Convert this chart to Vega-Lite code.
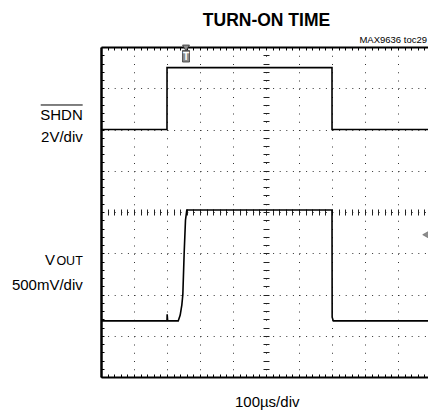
{
  "$schema": "https://vega.github.io/schema/vega-lite/v6.json",
  "width": 327,
  "height": 330,
  "autosize": "none",
  "padding": {"left": 101, "top": 47, "right": 0, "bottom": 33},
  "background": "white",
  "config": {"view": {"stroke": null}, "font": "Liberation Sans"},
  "title": {"text": "TURN-ON TIME", "font": "Liberation Sans", "fontSize": 17.5, "fontWeight": "bold", "color": "black", "anchor": "middle", "frame": "group", "offset": 5, "dx": 2},
  "data": {"values": [
    {"ch": "SHDN", "t": 0, "v": 6.0},
    {"ch": "SHDN", "t": 2.0, "v": 6.0},
    {"ch": "SHDN", "t": 2.001, "v": 7.5},
    {"ch": "SHDN", "t": 7.0, "v": 7.5},
    {"ch": "SHDN", "t": 7.001, "v": 6.0},
    {"ch": "SHDN", "t": 9.91, "v": 6.0},
    {"ch": "VOUT", "t": 0, "v": 1.36},
    {"ch": "VOUT", "t": 2.0, "v": 1.36},
    {"ch": "VOUT", "t": 2.005, "v": 1.52},
    {"ch": "VOUT", "t": 2.02, "v": 1.36},
    {"ch": "VOUT", "t": 2.34, "v": 1.36},
    {"ch": "VOUT", "t": 2.4, "v": 1.5},
    {"ch": "VOUT", "t": 2.45, "v": 1.75},
    {"ch": "VOUT", "t": 2.48, "v": 2.0},
    {"ch": "VOUT", "t": 2.52, "v": 3.0},
    {"ch": "VOUT", "t": 2.56, "v": 3.8},
    {"ch": "VOUT", "t": 2.6, "v": 4.05},
    {"ch": "VOUT", "t": 7.0, "v": 4.05},
    {"ch": "VOUT", "t": 7.005, "v": 1.45},
    {"ch": "VOUT", "t": 7.04, "v": 1.36},
    {"ch": "VOUT", "t": 9.91, "v": 1.36}
  ]},
  "layer": [
    {
      "transform": [{"filter": "datum.ch === 'SHDN'"}],
      "mark": {"type": "line", "color": "black", "strokeWidth": 1.6, "clip": true},
      "encoding": {
        "x": {"field": "t", "type": "quantitative", "scale": {"domain": [0, 9.909], "nice": false, "zero": false},
          "axis": {"orient": "bottom", "values": [0,0.2,0.4,0.6,0.8,1,1.2,1.4,1.6,1.8,2,2.2,2.4,2.6,2.8,3,3.2,3.4,3.6,3.8,4,4.2,4.4,4.6,4.8,5,5.2,5.4,5.6,5.8,6,6.2,6.4,6.6,6.8,7,7.2,7.4,7.6,7.8,8,8.2,8.4,8.6,8.8,9,9.2,9.4,9.6,9.8],
            "labels": false, "domain": true, "domainColor": "black", "domainWidth": 2,
            "ticks": true, "tickSize": -3, "tickColor": "black", "tickWidth": 1,
            "grid": true, "gridColor": "#333", "gridWidth": 1, "gridDash": [1, 7.25],
            "gridOpacity": {"condition": {"test": "abs(datum.value - round(datum.value)) < 0.01 && datum.value > 0.5", "value": 1}, "value": 0},
            "title": "100µs/div", "titleFont": "Liberation Sans", "titleFontSize": 15, "titleFontWeight": "normal", "titleColor": "black",
            "titleX": 165.7, "titleY": 29, "titleAlign": "center", "titleBaseline": "alphabetic"}},
        "y": {"field": "v", "type": "quantitative", "scale": {"domain": [0, 8], "nice": false, "zero": false},
          "axis": {"orient": "left", "values": [0,0.2,0.4,0.6,0.8,1,1.2,1.4,1.6,1.8,2,2.2,2.4,2.6,2.8,3,3.2,3.4,3.6,3.8,4,4.2,4.4,4.6,4.8,5,5.2,5.4,5.6,5.8,6,6.2,6.4,6.6,6.8,7,7.2,7.4,7.6,7.8],
            "labels": false, "domain": true, "domainColor": "black", "domainWidth": 2.5,
            "ticks": true, "tickSize": -3, "tickColor": "black", "tickWidth": 1,
            "grid": true, "gridColor": "#333", "gridWidth": 1, "gridDash": [1, 5.6],
            "gridOpacity": {"condition": {"test": "abs(datum.value - round(datum.value)) < 0.01 && datum.value > 0.5", "value": 1}, "value": 0},
            "title": null}}
      }
    },
    {
      "transform": [{"filter": "datum.ch === 'VOUT'"}],
      "mark": {"type": "line", "color": "black", "strokeWidth": 1.6, "clip": true},
      "encoding": {
        "x": {"field": "t", "type": "quantitative", "scale": {"domain": [0, 9.909], "nice": false, "zero": false},
          "axis": {"orient": "top", "values": [0,0.2,0.4,0.6,0.8,1,1.2,1.4,1.6,1.8,2,2.2,2.4,2.6,2.8,3,3.2,3.4,3.6,3.8,4,4.2,4.4,4.6,4.8,5,5.2,5.4,5.6,5.8,6,6.2,6.4,6.6,6.8,7,7.2,7.4,7.6,7.8,8,8.2,8.4,8.6,8.8,9,9.2,9.4,9.6,9.8],
            "labels": false, "domain": true, "domainColor": "black", "domainWidth": 2,
            "ticks": true, "tickSize": -3, "tickColor": "black", "tickWidth": 1, "grid": false, "title": null}},
        "y": {"field": "v", "type": "quantitative", "scale": {"domain": [0, 8], "nice": false, "zero": false},
          "axis": {"orient": "left", "offset": -168, "values": [0.2,0.4,0.6,0.8,1,1.2,1.4,1.6,1.8,2,2.2,2.4,2.6,2.8,3,3.2,3.4,3.6,3.8,4,4.2,4.4,4.6,4.8,5,5.2,5.4,5.6,5.8,6,6.2,6.4,6.6,6.8,7,7.2,7.4,7.6,7.8],
            "labels": false, "domain": false, "ticks": true, "tickSize": 6, "tickColor": "#222", "tickWidth": 1, "grid": false, "title": null}}
      }
    },
    {
      "data": {"values": [{}]},
      "mark": {"type": "point", "shape": "M-0.41,-1L0.41,-1L0,-0.32Z M-0.41,-0.36L0.41,-0.36L0.41,1L-0.41,1Z", "size": 289, "filled": true, "fill": "#8c8c8c", "stroke": "#3a3a3a", "strokeWidth": 0.8, "opacity": 1},
      "encoding": {
        "x": {"datum": 2.576, "type": "quantitative", "scale": {"domain": [0, 9.909], "nice": false, "zero": false},
          "axis": {"orient": "bottom", "offset": -168, "values": [0.2,0.4,0.6,0.8,1,1.2,1.4,1.6,1.8,2,2.2,2.4,2.6,2.8,3,3.2,3.4,3.6,3.8,4,4.2,4.4,4.6,4.8,5,5.2,5.4,5.6,5.8,6,6.2,6.4,6.6,6.8,7,7.2,7.4,7.6,7.8,8,8.2,8.4,8.6,8.8,9,9.2,9.4,9.6,9.8],
            "labels": false, "domain": false, "ticks": true, "tickSize": 6, "tickColor": "#222", "tickWidth": 1, "grid": false, "title": null}},
        "y": {"datum": 7.842, "type": "quantitative", "scale": {"domain": [0, 8], "nice": false, "zero": false}, "axis": null}
      }
    },
    {
      "data": {"values": [{}]},
      "mark": {"type": "text", "text": "T", "align": "center", "baseline": "alphabetic", "font": "Liberation Sans", "fontSize": 10, "fontWeight": "bold", "color": "white"},
      "encoding": {
        "x": {"datum": 2.576, "type": "quantitative", "scale": {"domain": [0, 9.909], "nice": false, "zero": false}, "axis": null},
        "y": {"datum": 7.673, "type": "quantitative", "scale": {"domain": [0, 8], "nice": false, "zero": false}, "axis": null}
      }
    },
    {
      "data": {"values": [{}]},
      "mark": {"type": "point", "shape": "triangle-left", "size": 60, "filled": true, "fill": "#8c8c8c", "stroke": "#555", "strokeWidth": 0.5, "opacity": 1},
      "encoding": {
        "x": {"datum": 9.85, "type": "quantitative", "scale": {"domain": [0, 9.909], "nice": false, "zero": false}, "axis": null},
        "y": {"datum": 3.45, "type": "quantitative", "scale": {"domain": [0, 8], "nice": false, "zero": false}, "axis": null}
      }
    },
    {
      "data": {"values": [{}]},
      "mark": {"type": "text", "text": "SHDN", "align": "right", "baseline": "alphabetic", "font": "Liberation Sans", "fontSize": 15, "color": "black"},
      "encoding": {
        "x": {"datum": -0.552, "type": "quantitative", "scale": {"domain": [0, 9.909], "nice": false, "zero": false}, "axis": null},
        "y": {"datum": 6.23, "type": "quantitative", "scale": {"domain": [0, 8], "nice": false, "zero": false}, "axis": null}
      }
    },
    {
      "data": {"values": [{}]},
      "mark": {"type": "rule", "color": "black", "strokeWidth": 1},
      "encoding": {
        "x": {"datum": -1.827, "type": "quantitative", "scale": {"domain": [0, 9.909], "nice": false, "zero": false}, "axis": null},
        "x2": {"datum": -0.555},
        "y": {"datum": 6.594, "type": "quantitative", "scale": {"domain": [0, 8], "nice": false, "zero": false}, "axis": null}
      }
    },
    {
      "data": {"values": [{}]},
      "mark": {"type": "text", "text": "2V/div", "align": "right", "baseline": "alphabetic", "font": "Liberation Sans", "fontSize": 15, "color": "black"},
      "encoding": {
        "x": {"datum": -0.552, "type": "quantitative", "scale": {"domain": [0, 9.909], "nice": false, "zero": false}, "axis": null},
        "y": {"datum": 5.704, "type": "quantitative", "scale": {"domain": [0, 8], "nice": false, "zero": false}, "axis": null}
      }
    },
    {
      "data": {"values": [{}]},
      "mark": {"type": "text", "text": "V", "align": "right", "baseline": "alphabetic", "font": "Liberation Sans", "fontSize": 15, "color": "black"},
      "encoding": {
        "x": {"datum": -1.394, "type": "quantitative", "scale": {"domain": [0, 9.909], "nice": false, "zero": false}, "axis": null},
        "y": {"datum": 2.715, "type": "quantitative", "scale": {"domain": [0, 8], "nice": false, "zero": false}, "axis": null}
      }
    },
    {
      "data": {"values": [{}]},
      "mark": {"type": "text", "text": "OUT", "align": "right", "baseline": "alphabetic", "font": "Liberation Sans", "fontSize": 12.5, "color": "black"},
      "encoding": {
        "x": {"datum": -0.552, "type": "quantitative", "scale": {"domain": [0, 9.909], "nice": false, "zero": false}, "axis": null},
        "y": {"datum": 2.715, "type": "quantitative", "scale": {"domain": [0, 8], "nice": false, "zero": false}, "axis": null}
      }
    },
    {
      "data": {"values": [{}]},
      "mark": {"type": "text", "text": "500mV/div", "align": "right", "baseline": "alphabetic", "font": "Liberation Sans", "fontSize": 15, "color": "black"},
      "encoding": {
        "x": {"datum": -0.552, "type": "quantitative", "scale": {"domain": [0, 9.909], "nice": false, "zero": false}, "axis": null},
        "y": {"datum": 2.109, "type": "quantitative", "scale": {"domain": [0, 8], "nice": false, "zero": false}, "axis": null}
      }
    },
    {
      "data": {"values": [{}]},
      "mark": {"type": "text", "text": "MAX9636 toc29", "align": "right", "baseline": "alphabetic", "font": "Liberation Sans", "fontSize": 9.5, "color": "black"},
      "encoding": {
        "x": {"datum": 9.88, "type": "quantitative", "scale": {"domain": [0, 9.909], "nice": false, "zero": false}, "axis": null},
        "y": {"datum": 8.097, "type": "quantitative", "scale": {"domain": [0, 8], "nice": false, "zero": false}, "axis": null}
      }
    }
  ],
  "resolve": {"axis": {"x": "independent", "y": "independent"}}
}
